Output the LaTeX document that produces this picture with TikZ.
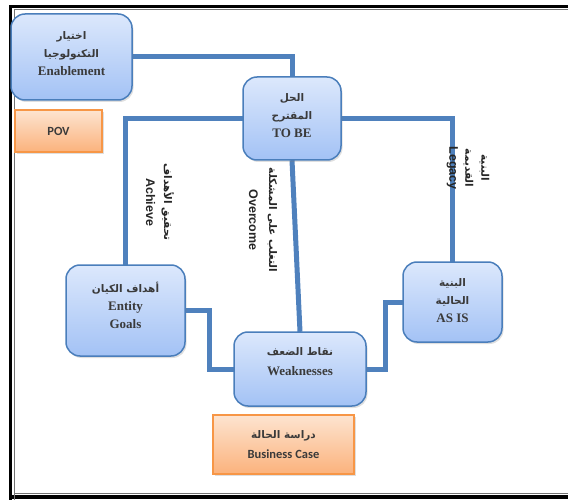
\documentclass[tikz,border=0pt]{standalone}
\usepackage{fontspec}
\setmainfont{Liberation Serif}
\newfontfamily\arabicfont[Script=Arabic]{DejaVu Sans}
\newfontfamily\lsans{Liberation Sans}
\newfontfamily\carl{Carlito}
\TeXXeTstate=1
\usetikzlibrary{shadows}
\newcommand\arx[1]{{\arabicfont\bfseries\fontsize{10.5}{18}\selectfont\beginR #1\endR}}
\newcommand\ars[1]{{\arabicfont\bfseries\fontsize{10.5}{17}\selectfont\beginR #1\endR}}
\definecolor{boxline}{HTML}{4A7EBB}
\definecolor{linkblue}{HTML}{4F81BD}
\definecolor{btop}{HTML}{DCE8FC}
\definecolor{bbot}{HTML}{A3C2F5}
\definecolor{oline}{HTML}{F79646}
\definecolor{otop}{HTML}{FDE4D0}
\definecolor{obot}{HTML}{FBB27C}
\definecolor{txt}{HTML}{3A3A3A}
\tikzset{
  bluebox/.style={draw=boxline, line width=1.5pt, rounded corners=14pt,
    top color=btop, bottom color=bbot,
    drop shadow={shadow xshift=1.5pt, shadow yshift=-2pt, opacity=0.25}},
  boxtext/.style={align=center, text=txt,
    font=\bfseries\fontsize{13}{18}\selectfont},
  orangebox/.style={draw=oline, line width=1.5pt,
    top color=otop, bottom color=obot, align=center, text=txt,
    font=\carl\bfseries\fontsize{12.5}{20}\selectfont,
    drop shadow={shadow xshift=1.5pt, shadow yshift=-2pt, opacity=0.25}},
  link/.style={draw=linkblue, line width=5pt},
  vlabel/.style={rotate=-90, align=center, text=black!85,
    font=\lsans\bfseries\fontsize{12.5}{18}\selectfont},
}
\begin{document}
\begin{tikzpicture}[x=1pt, y=-1pt]
\useasboundingbox (0,0) rectangle (568,500);
\begin{scope}
\clip (0,0) rectangle (568,500);
% frame
\draw[line width=3.5pt, black] (10.5,520) -- (10.5,6.5) -- (580,6.5);
\draw[line width=3.5pt, black] (10.5,497) -- (580,497);
\draw[line width=1pt, black!55] (14,520) -- (14,10) -- (580,10);
\draw[line width=1pt, black!55] (14,493.5) -- (580,493.5);
\end{scope}

% anchors for the boxes
\path
  node[minimum width=121pt, minimum height=86pt] (enab) at (71.5,57) {}
  node[minimum width=98pt, minimum height=83pt] (tobe) at (292,118.5) {}
  node[minimum width=119pt, minimum height=91pt] (goals) at (125.5,310.5) {}
  node[minimum width=132pt, minimum height=74pt] (weak) at (300,369) {}
  node[minimum width=99pt, minimum height=80pt] (asis) at (452.5,302) {};

% connectors
\draw[link] (enab.east) -| (tobe.north);
\draw[link] (tobe.west) -| (goals.north);
\draw[link] (tobe.east) -| (asis.north);
\draw[link] (tobe.south) -- (weak.north);
\draw[link] (goals.east) -- ++(24,0) |- (weak.west);
\draw[link] (weak.east) -- ++(19,0) |- (asis.west);

% boxes
\node[bluebox, minimum width=121pt, minimum height=86pt] (enabbox) at (enab) {};
\node[bluebox, minimum width=98pt, minimum height=83pt] (tobebox) at (tobe) {};
\node[bluebox, minimum width=119pt, minimum height=91pt] (goalsbox) at (goals) {};
\node[bluebox, minimum width=132pt, minimum height=74pt] (weakbox) at (weak) {};
\node[bluebox, minimum width=99pt, minimum height=80pt] (asisbox) at (asis) {};

% box texts
\node[boxtext] (enabtxt) at ([yshift=3pt]enab) {\arx{اختيار}\\ \arx{التكنولوجيا}\\ Enablement};
\node[boxtext] (tobetxt) at ([yshift=3pt]tobe) {\arx{الحل}\\ \arx{المقترح}\\ TO BE};
\node[boxtext] (goalstxt) at ([yshift=5pt]goals) {\arx{أهداف الكيان}\\ Entity\\ Goals};
\node[boxtext, font=\bfseries\fontsize{13}{20}\selectfont] (weaktxt) at ([yshift=7pt]weak) {\arx{نقاط الضعف}\\ Weaknesses};
\node[boxtext] (asistxt) at ([yshift=1pt]asis) {\arx{البنية}\\ \arx{الحالية}\\ AS IS};

\node[orangebox, minimum width=87pt, minimum height=42pt] (pov) at (58.5,131) {POV};
\node[orangebox, minimum width=141pt, minimum height=59pt] (bcase) at (283.5,444.5) {\arx{دراسة الحالة}\\ Business Case};

% rotated labels
\node[vlabel] (ach) at (160,202) {\ars{تحقيق الأهداف}\\ Achieve};
\node[vlabel, font=\lsans\bfseries\fontsize{12.5}{20}\selectfont] (ovc) at (263,220) {\ars{التغلب على المشكلة}\\ Overcome};
\node[vlabel, font=\lsans\bfseries\fontsize{12.5}{16}\selectfont] (leg) at (468,168) {\ars{البنية}\\ \ars{القديمة}\\ Legacy};
\end{tikzpicture}
\end{document}
